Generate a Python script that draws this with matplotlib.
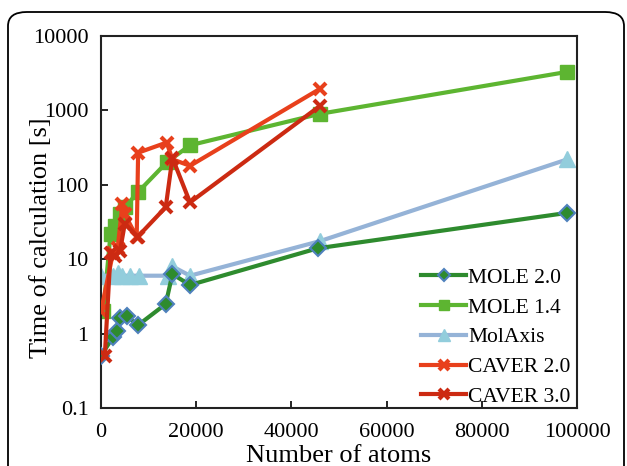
import matplotlib
matplotlib.use('Agg')
import matplotlib.pyplot as plt
from matplotlib.patches import FancyBboxPatch
from matplotlib.ticker import FixedLocator, FixedFormatter, NullLocator

# Datos (atomos, segundos)
mole20_x = [0, 2500, 3300, 4000, 5400, 7800, 13600, 15000, 18700, 45500, 98000]
mole20_y = [0.5, 0.9, 1.1, 1.6, 1.7, 1.3, 2.5, 6.3, 4.5, 14, 42]

mole14_x = [500, 2000, 3000, 4000, 5000, 7800, 13800, 18700, 46000, 98000]
mole14_y = [2.0, 22, 28, 40, 50, 80, 200, 340, 900, 3300]

molaxis_x = [0, 2500, 3500, 4500, 6000, 8000, 14000, 15000, 18700, 46000, 98000]
molaxis_y = [6, 6, 6.5, 6, 6, 6, 6, 8, 6, 17.5, 220]

caver20_x = [0, 2500, 3500, 4500, 5000, 7500, 7800, 13800, 15000, 18700, 46000]
caver20_y = [2.0, 12, 14, 55, 40, 20, 270, 370, 220, 180, 1950]

caver30_x = [800, 2000, 3000, 4000, 5000, 7700, 13600, 15000, 18700, 46000]
caver30_y = [0.5, 12, 11, 13, 30, 20, 50, 230, 58, 1150]

plt.rcParams['font.family'] = ['Liberation Serif', 'DejaVu Serif']

fig = plt.figure(figsize=(6.27, 4.66), dpi=100)

# Marco redondeado alrededor de la figura
marco = FancyBboxPatch((8 / 627, -0.05), 616 / 627, 1 - 12 / 466 + 0.05,
                       boxstyle='round,pad=0,rounding_size=0.03',
                       transform=fig.transFigure, fill=False,
                       edgecolor='black', linewidth=1.3)
fig.patches.append(marco)

ax = fig.add_axes([101 / 627, 1 - 408 / 466, 476 / 627, 372 / 466])

ax.plot(mole20_x, mole20_y, color='#2e8b2e', linewidth=3, marker='D', markersize=8,
        markerfacecolor='#2e8b2e', markeredgecolor='#4f81bd', markeredgewidth=1.5,
        label='MOLE 2.0', zorder=3)
ax.plot(mole14_x, mole14_y, color='#5db531', linewidth=3, marker='s', markersize=10,
        markerfacecolor='#5db531', markeredgecolor='#5db531', label='MOLE 1.4', zorder=2)
ax.plot(molaxis_x, molaxis_y, color='#95b3d7', linewidth=3, marker='^', markersize=11,
        markerfacecolor='#92cddc', markeredgecolor='#92cddc', label='MolAxis', zorder=2)
ax.plot(caver20_x, caver20_y, color='#e8401c', linewidth=3, marker='x', markersize=9,
        markeredgewidth=3, label='CAVER 2.0', zorder=4)
ax.plot(caver30_x, caver30_y, color='#cc2a12', linewidth=3, marker='x', markersize=9,
        markeredgewidth=3, label='CAVER 3.0', zorder=4)

ax.set_yscale('log')
ax.set_xlim(0, 100000)
ax.set_ylim(0.1, 10000)
ax.yaxis.set_major_locator(FixedLocator([0.1, 1, 10, 100, 1000, 10000]))
ax.yaxis.set_major_formatter(FixedFormatter(['0.1', '1', '10', '100', '1000', '10000']))
ax.yaxis.set_minor_locator(NullLocator())
ax.set_xticks([0, 20000, 40000, 60000, 80000, 100000])
ax.set_xticklabels(['0', '20000', '40000', '60000', '80000', '100000'])
ax.tick_params(direction='in', length=5, width=1.2, labelsize=16)
ax.tick_params(axis='x', pad=11)
ax.tick_params(axis='y', pad=9)

for s in ax.spines.values():
    s.set_linewidth(1.5)
    s.set_color('#222222')

ax.set_xlabel('Number of atoms', fontsize=19)
ax.set_ylabel('Time of calculation [s]', fontsize=19)
ax.xaxis.set_label_coords(0.5, -0.1)
ax.yaxis.set_label_coords(-0.103, 0.457)

ax.legend(loc='lower right', frameon=False, fontsize=15.5, handlelength=2.1,
          handletextpad=0.1, labelspacing=0.45, borderaxespad=0.0,
          markerscale=0.75, bbox_to_anchor=(1.005, -0.02))

fig.savefig('out.png', dpi=100)
